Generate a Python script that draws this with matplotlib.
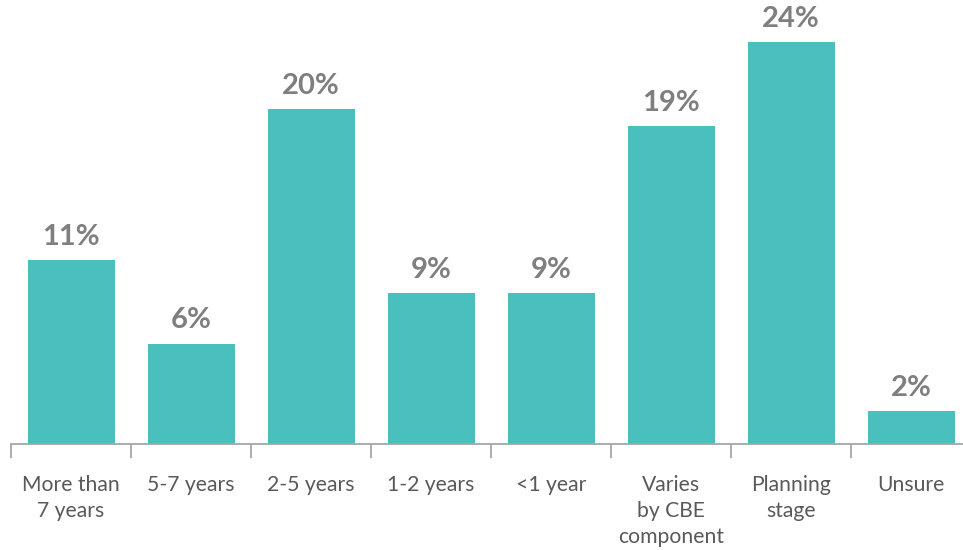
import numpy as np
import matplotlib
matplotlib.use("Agg")
import matplotlib.pyplot as plt

categories = ["More than\n7 years", "5-7 years", "2-5 years", "1-2 years", "<1 year",
              "Varies\nby CBE\ncomponent", "Planning\nstage", "Unsure"]
values = [11, 6, 20, 9, 9, 19, 24, 2]

bar_color = "#49c0bd"
plt.rcParams['font.family'] = ['Lato', 'DejaVu Sans']

fig = plt.figure(figsize=(9.63, 5.5), dpi=100)
ax = fig.add_axes([11 / 963, 106 / 550, 952 / 963, 444 / 550])

x = np.arange(len(categories))
bars = ax.bar(x, values, width=0.725, color=bar_color, zorder=2)

for xi, v in zip(x, values):
    ax.annotate(f"{v}%", (xi, v), xytext=(0, 23), textcoords="offset pixels",
                ha="center", va="center", fontsize=21, fontweight="bold", color="#7f7f7f")

ax.set_xlim(-0.5, (963 - 71) / 120)
ax.set_ylim(0, 444 / 16.75)

for s in ["top", "right", "left"]:
    ax.spines[s].set_visible(False)
ax.spines["bottom"].set_color("#a6a6a6")
ax.spines["bottom"].set_linewidth(1.3)
ax.set_yticks([])

# ticks on category boundaries, labels centred under bars
ax.set_xticks(np.arange(len(categories)) - 0.5)
ax.set_xticklabels([])
ax.tick_params(axis="x", which="major", length=10, width=1.3, color="#a6a6a6")
ax.set_xticks(x, minor=True)
ax.set_xticklabels(categories, minor=True, fontsize=15.2, color="#595959", linespacing=1.38, va="top")
ax.tick_params(axis="x", which="minor", length=0, pad=22)

fig.savefig("out.png", dpi=100)
